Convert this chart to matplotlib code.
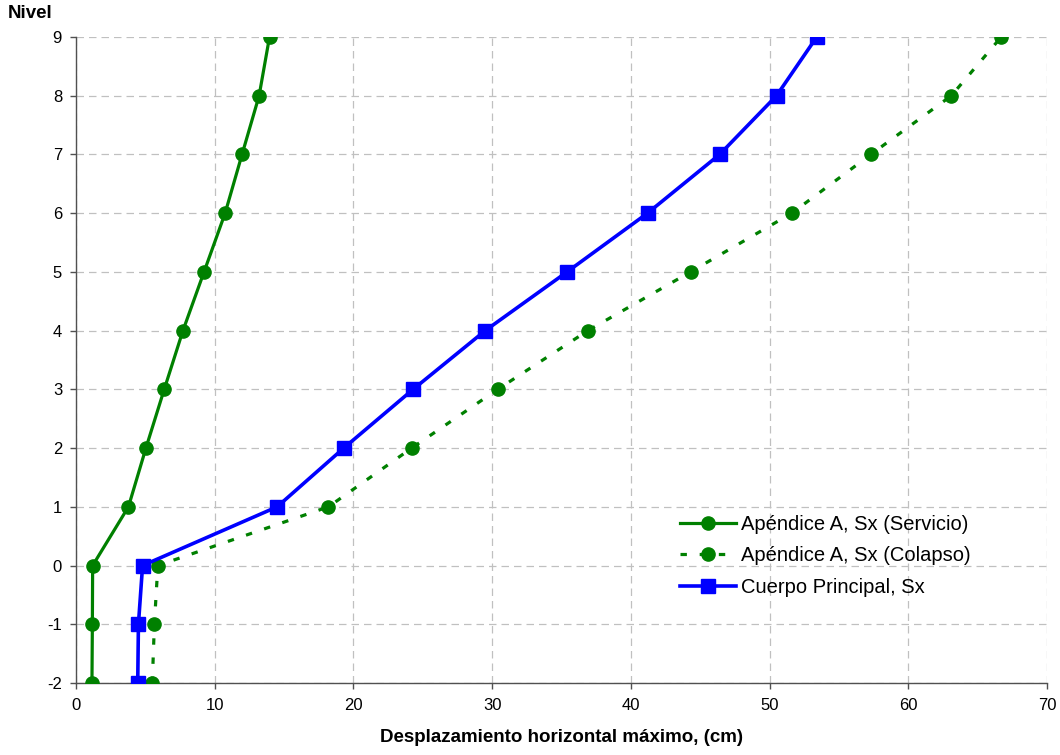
import matplotlib
matplotlib.use("Agg")
import matplotlib.pyplot as plt

plt.rcParams['font.family'] = ['Liberation Sans', 'DejaVu Sans']
plt.rcParams['axes.unicode_minus'] = False

niveles = [-2, -1, 0, 1, 2, 3, 4, 5, 6, 7, 8, 9]
servicio = [1.15, 1.18, 1.2, 3.78, 5.04, 6.36, 7.71, 9.23, 10.75, 11.97, 13.2, 13.95]
colapso = [5.5, 5.65, 5.9, 18.2, 24.2, 30.4, 36.9, 44.3, 51.6, 57.3, 63.1, 66.7]
principal = [4.45, 4.5, 4.8, 14.5, 19.3, 24.3, 29.5, 35.4, 41.2, 46.4, 50.5, 53.4]

labels = ["Apéndice A, Sx (Servicio)", "Apéndice A, Sx (Colapso)", "Cuerpo Principal, Sx"]
xticks = [0, 10, 20, 30, 40, 50, 60, 70]
yticks = [-2, -1, 0, 1, 2, 3, 4, 5, 6, 7, 8, 9]

fig = plt.figure(figsize=(10.6, 7.55), dpi=100)
ax = fig.add_axes([76/1060, 1-683/755, (1047-76)/1060, (683-37)/755])

green = '#008000'
blue = '#0000FF'
ax.plot(servicio, niveles, color=green, lw=2.3, marker='o', ms=9.5, label=labels[0], zorder=3)
ax.plot(colapso, niveles, color=green, lw=2.3, marker='o', ms=9.5, dashes=(2, 4), label=labels[1], zorder=3)
ax.plot(principal, niveles, color=blue, lw=2.6, marker='s', ms=9.5, label=labels[2], zorder=4)

ax.set_xlim(0, 70)
ax.set_ylim(-2, 9)
ax.set_xticks(xticks)
ax.set_yticks(yticks)
ax.grid(True, color='#c0c0c0', lw=0.9, dashes=(6, 4))
ax.set_axisbelow(True)
for s in ['top', 'right']:
    ax.spines[s].set_visible(False)
for s in ['left', 'bottom']:
    ax.spines[s].set_color('#505050')
    ax.spines[s].set_linewidth(1.0)
ax.tick_params(direction='out', length=4, width=1, color='#505050', labelsize=12)
ax.tick_params(axis='x', pad=7)
ax.tick_params(axis='y', pad=6)

ax.set_xlabel("Desplazamiento horizontal máximo, (cm)", fontsize=13.5, fontweight='bold', labelpad=11)
fig.text(8/1060, 1-13/755, "Nivel", fontsize=13.5, fontweight='bold', va='center', ha='left')

leg = ax.legend(loc='center left', bbox_to_anchor=(0.622, 0.197), frameon=False,
                fontsize=14.5, handlelength=2.8, handletextpad=0.25, labelspacing=0.62,
                borderpad=0, borderaxespad=0)

fig.savefig("out.png", dpi=100)
